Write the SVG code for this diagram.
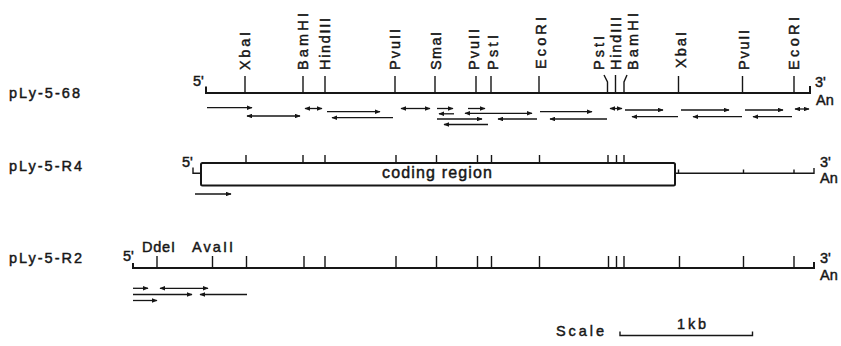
<svg xmlns="http://www.w3.org/2000/svg" width="841" height="346" viewBox="0 0 841 346">
<style>
text{font-family:"Liberation Sans",Arial,"DejaVu Sans",sans-serif;font-size:14.5px;fill:#161616;stroke:#161616;stroke-width:0.45}
.site{font-size:15px}
.ln{stroke:#161616;stroke-width:2;fill:none}
.tk{stroke:#161616;stroke-width:1.4;fill:none}
.ar{stroke:#161616;stroke-width:1.3;fill:none}
.r{marker-end:url(#ah)}
.l{marker-start:url(#ah)}
.d{marker-start:url(#ah);marker-end:url(#ah)}
</style>
<defs>
<marker id="ah" viewBox="0 0 10 8" refX="9" refY="4" markerWidth="6" markerHeight="4.8" markerUnits="userSpaceOnUse" orient="auto-start-reverse">
<path d="M0,0 L10,4 L0,8 Z" fill="#161616"/>
</marker>
</defs>
<rect width="841" height="346" fill="#fff"/>

<g id="row-pLy-5-68">
<text x="9" y="98" textLength="71" lengthAdjust="spacing">pLy-5-68</text>
<text x="193" y="86">5'</text>
<text x="815" y="87">3'</text>
<text x="816" y="105">An</text>
<path class="ln" d="M206,86.5 V93 H810 V86"/>
<path class="tk" d="M245,76V93M303,76V93M325,76V93M395,76V93M435,76V93M476,76V93M491,76V93M539,76V93M615.5,75V93M678.5,76V93M742.5,76V93M794,76V93M604,75 L607.5,82 V93 M627,75 L624,82 V93"/>
<g class="site">
<text transform="translate(250,70) rotate(-90)" textLength="38" lengthAdjust="spacing">XbaI</text>
<text transform="translate(308,70) rotate(-90)" textLength="57" lengthAdjust="spacing">BamHI</text>
<text transform="translate(330,70) rotate(-90)" textLength="52" lengthAdjust="spacing">HindIII</text>
<text transform="translate(400,70) rotate(-90)" textLength="41" lengthAdjust="spacing">PvuII</text>
<text transform="translate(441,70) rotate(-90)" textLength="38" lengthAdjust="spacing">SmaI</text>
<text transform="translate(479,70) rotate(-90)" textLength="41" lengthAdjust="spacing">PvuII</text>
<text transform="translate(498,70) rotate(-90)" textLength="35" lengthAdjust="spacing">PstI</text>
<text transform="translate(546,69) rotate(-90)" textLength="52" lengthAdjust="spacing">EcoRI</text>
<text transform="translate(604,70) rotate(-90)" textLength="34" lengthAdjust="spacing">PstI</text>
<text transform="translate(621,70) rotate(-90)" textLength="53" lengthAdjust="spacing">HindIII</text>
<text transform="translate(638,70) rotate(-90)" textLength="57" lengthAdjust="spacing">BamHI</text>
<text transform="translate(686,68) rotate(-90)" textLength="36" lengthAdjust="spacing">XbaI</text>
<text transform="translate(749,70) rotate(-90)" textLength="40" lengthAdjust="spacing">PvuII</text>
<text transform="translate(799,70) rotate(-90)" textLength="53" lengthAdjust="spacing">EcoRI</text>
</g>
</g>

<g id="row-pLy-5-R4">
<text x="9" y="171" textLength="73" lengthAdjust="spacing">pLy-5-R4</text>
<text x="182" y="167">5'</text>
<text x="820" y="167">3'</text>
<text x="820" y="183">An</text>
<rect x="201" y="163" width="474" height="22.5" rx="1.5" class="ln"/>
<path class="tk" d="M193,167.5 V173.3 H201"/>
<path class="tk" d="M246,155V163M303,155V163M325,155V163M396,155V163M436.5,155V163M477.5,155V163M491.5,155V163M539.5,155V163M608,155V163M616.5,155V163M624,155V163"/>
<path class="tk" d="M675,173.3 H814 V168 M678.5,169.5V173.3M743.5,169.5V173.3M794,169.5V173.3"/>
<text x="437" y="177.5" text-anchor="middle" style="font-size:16px" textLength="110" lengthAdjust="spacing">coding region</text>
</g>

<g id="row-pLy-5-R2">
<text x="9" y="263" textLength="73" lengthAdjust="spacing">pLy-5-R2</text>
<text x="123" y="261">5'</text>
<text x="142" y="252" textLength="33" lengthAdjust="spacing">DdeI</text>
<text x="192" y="252" textLength="41" lengthAdjust="spacing">AvaII</text>
<text x="820" y="263">3'</text>
<text x="820" y="280">An</text>
<path class="ln" d="M133,263 V268 H814 V262"/>
<path class="tk" d="M157,256V268M212.5,256V268M246.5,256V268M304,256V268M325,256V268M396,256V268M436.5,256V268M477.5,256V268M491.5,256V268M539.5,256V268M608.5,256V268M616.5,256V268M624,256V268M679.5,256V268M743.5,256V268M794,256V268"/>
</g>

<g id="scale">
<text x="556" y="336" textLength="48" lengthAdjust="spacing">Scale</text>
<text x="677" y="329" textLength="29" lengthAdjust="spacing">1kb</text>
<path class="tk" d="M620,331.5 V335.5 H752.5 V331.5"/>
</g>

<g id="connectors">
<path class="ar r" d="M207,107.7 H252"/>
<path class="ar d" d="M247,116 H300"/>
<path class="ar d" d="M305,108.5 H322"/>
<path class="ar r" d="M327,111.7 H380"/>
<path class="ar l" d="M332,117.7 H393"/>
<path class="ar d" d="M401,108.5 H430"/>
<path class="ar r" d="M437,108.5 H453"/>
<path class="ar l" d="M439,113.8 H454"/>
<path class="ar r" d="M437,119 H482"/>
<path class="ar l" d="M444,124.5 H488"/>
<path class="ar r" d="M468,108.5 H485"/>
<path class="ar d" d="M465,113.3 H532"/>
<path class="ar l" d="M498,119 H537"/>
<path class="ar r" d="M540,111.7 H592"/>
<path class="ar l" d="M550,119 H607"/>
<path class="ar d" d="M610,108.5 H622"/>
<path class="ar r" d="M625,110 H663"/>
<path class="ar l" d="M632,116.7 H678"/>
<path class="ar r" d="M681,110 H729"/>
<path class="ar l" d="M693,116.7 H742"/>
<path class="ar r" d="M745,110 H783"/>
<path class="ar l" d="M753,116.7 H792"/>
<path class="ar d" d="M795,109 H809"/>
<path class="ar r" d="M195,194 H231"/>
<path class="ar r" d="M133,288.3 H148"/>
<path class="ar d" d="M160,288.3 H208"/>
<path class="ar r" d="M133,294.5 H192"/>
<path class="ar l" d="M200,294.5 H247"/>
<path class="ar r" d="M133,300.5 H157"/>
</g>
</svg>
